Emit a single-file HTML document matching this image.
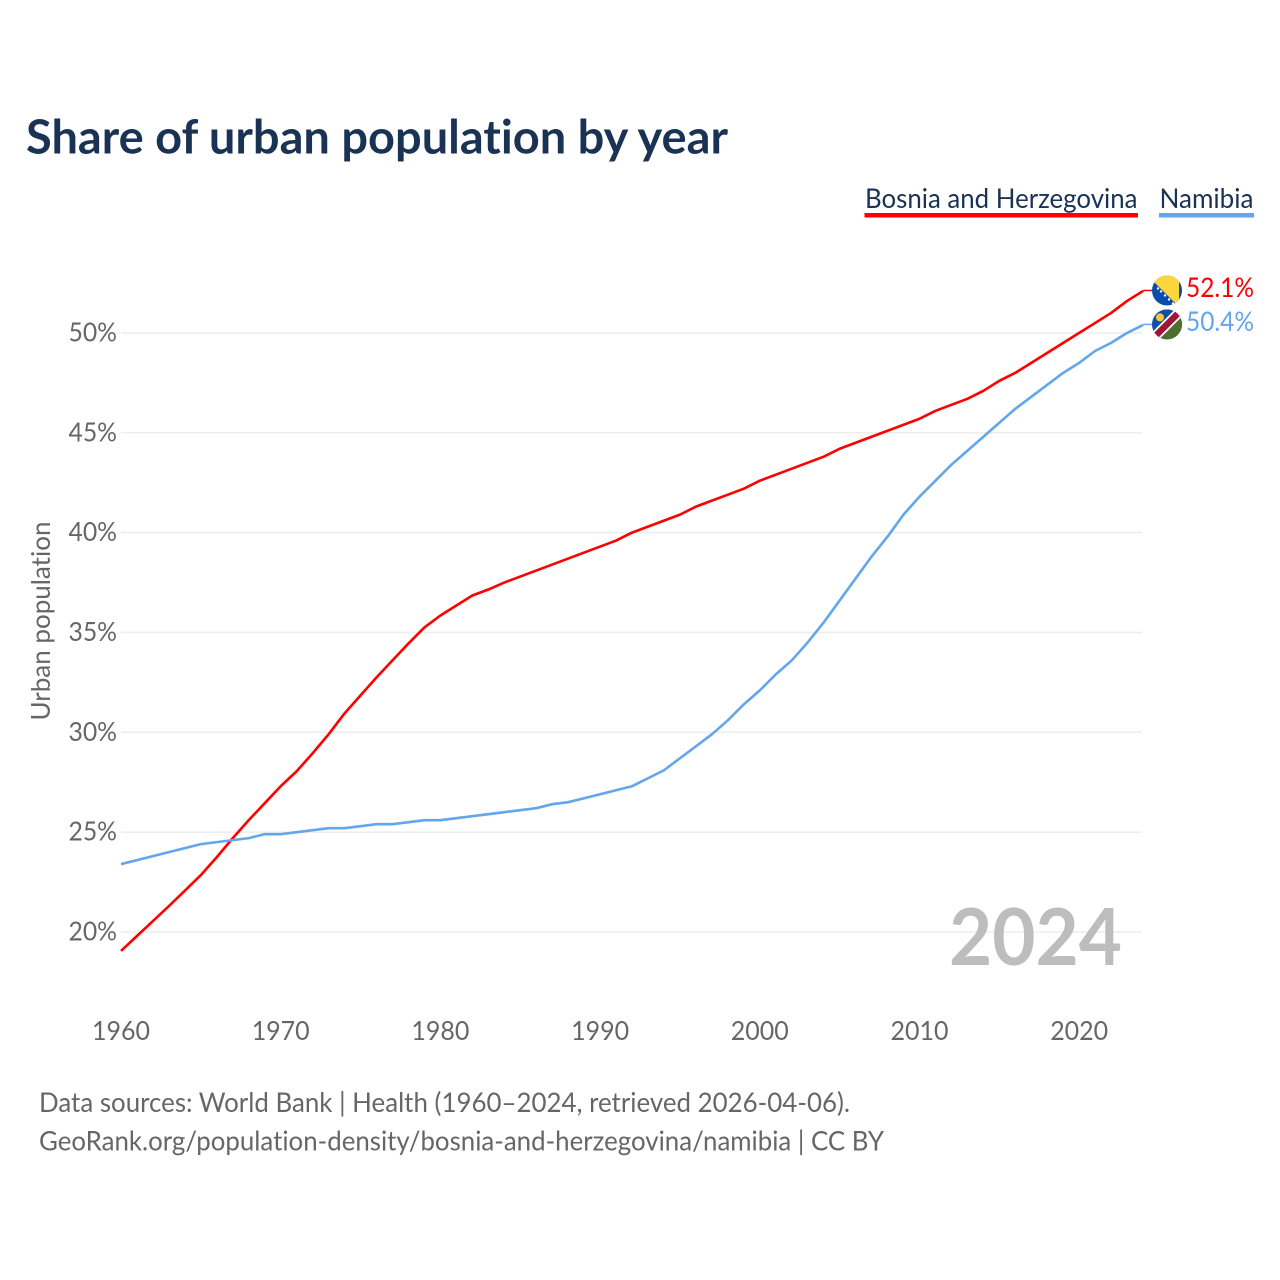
<!DOCTYPE html>
<html lang="en">
<head>
<meta charset="utf-8">
<title>Share of urban population by year</title>
<style>
html,body{margin:0;padding:0;background:#fff;width:1280px;height:1280px;overflow:hidden}
svg{display:block}
text{font-family:"Lato","Carlito","Liberation Sans",sans-serif;font-variant-ligatures:none}
</style>
</head>
<body>
<svg id="chart" xmlns="http://www.w3.org/2000/svg" width="1280" height="1280" viewBox="0 0 1280 1280">
  <defs>
    <clipPath id="flag-clip"><circle cx="0" cy="0" r="15"/></clipPath>
  </defs>
  <rect x="0" y="0" width="1280" height="1280" fill="#fff"/>
  <text x="26" y="153.5" font-size="47" font-weight="700" fill="#1a3354" textLength="702" lengthAdjust="spacingAndGlyphs">Share of urban population by year</text>

  <g>
    <text x="865" y="208" font-size="27" fill="#1a3354" textLength="272.5" lengthAdjust="spacingAndGlyphs">Bosnia and Herzegovina</text>
    <rect x="864.5" y="213" width="273.5" height="4.5" fill="#ff0000"/>
  </g>
  <g>
    <text x="1159.5" y="208" font-size="27" fill="#1a3354" textLength="94" lengthAdjust="spacingAndGlyphs">Namibia</text>
    <rect x="1159" y="213" width="95" height="4.5" fill="#62a6eb"/>
  </g>

  <g id="grid"></g>
  <g id="y-ticks"></g>
  <g id="x-ticks"></g>
  <text transform="translate(50,621) rotate(-90)" text-anchor="middle" font-size="26.5" fill="#666" textLength="199" lengthAdjust="spacingAndGlyphs">Urban population</text>

  <text x="949" y="965" font-size="79" font-weight="700" fill="#bdbdbd" textLength="173" lengthAdjust="spacingAndGlyphs">2024</text>

  <g id="series"></g>
  <g id="ends"></g>

  <text x="39" y="1112" font-size="27" fill="#666" textLength="811" lengthAdjust="spacingAndGlyphs">Data sources: World Bank | Health (1960–2024, retrieved 2026-04-06).</text>
  <text x="39" y="1150.5" font-size="27" fill="#666" textLength="845" lengthAdjust="spacingAndGlyphs">GeoRank.org/population-density/bosnia-and-herzegovina/namibia | CC BY</text>
</svg>
<script>
const startYear = 1960;
const yTickValues = [20, 25, 30, 35, 40, 45, 50];
const xTickYears = [1960, 1970, 1980, 1990, 2000, 2010, 2020];
const bosniaValues = [
  19.05, 19.8, 20.55, 21.3, 22.07, 22.85, 23.75, 24.7, 25.6, 26.45,
  27.3, 28.05, 28.95, 29.9, 30.95, 31.85, 32.75, 33.6, 34.45, 35.25,
  35.85, 36.35, 36.85, 37.15, 37.5, 37.8, 38.1, 38.4, 38.7, 39.0,
  39.3, 39.6, 40.0, 40.3, 40.6, 40.9, 41.3, 41.6, 41.9, 42.2,
  42.6, 42.9, 43.2, 43.5, 43.8, 44.2, 44.5, 44.8, 45.1, 45.4,
  45.7, 46.1, 46.4, 46.7, 47.1, 47.6, 48.0, 48.5, 49.0, 49.5,
  50.0, 50.5, 51.0, 51.6, 52.1
];
const namibiaValues = [
  23.4, 23.6, 23.8, 24.0, 24.2, 24.4, 24.5, 24.6, 24.7, 24.9,
  24.9, 25.0, 25.1, 25.2, 25.2, 25.3, 25.4, 25.4, 25.5, 25.6,
  25.6, 25.7, 25.8, 25.9, 26.0, 26.1, 26.2, 26.4, 26.5, 26.7,
  26.9, 27.1, 27.3, 27.7, 28.1, 28.7, 29.3, 29.9, 30.6, 31.4,
  32.1, 32.9, 33.6, 34.5, 35.5, 36.6, 37.7, 38.8, 39.8, 40.9,
  41.8, 42.6, 43.4, 44.1, 44.8, 45.5, 46.2, 46.8, 47.4, 48.0,
  48.5, 49.1, 49.5, 50.0, 50.4
];

const NS = 'http://www.w3.org/2000/svg';
function xScale(year) { return 121 + (year - 1960) * 15.97; }
function yScale(v) { return 932 - (v - 20) * 19.97; }
function make(tag, attrs, parent) {
  const el = document.createElementNS(NS, tag);
  for (const k in attrs) el.setAttribute(k, attrs[k]);
  parent.appendChild(el);
  return el;
}

const gridG = document.getElementById('grid');
const yG = document.getElementById('y-ticks');
yTickValues.forEach(function (v) {
  const line = make('line', { x1: 121, x2: 1142, y1: yScale(v), y2: yScale(v), stroke: '#eeeeee', 'stroke-width': 1.6 }, gridG);
  
  
  const t = make('text', { x: 117, y: yScale(v) + 8.5, 'text-anchor': 'end', 'font-size': 26.5, fill: '#666', textLength: 48.5, lengthAdjust: 'spacingAndGlyphs' }, yG);
  
  
  t.textContent = v + '%';
});

const xG = document.getElementById('x-ticks');
xTickYears.forEach(function (yr) {
  const t = make('text', { x: xScale(yr), y: 1040, 'text-anchor': 'middle', 'font-size': 26.5, fill: '#666', textLength: 58, lengthAdjust: 'spacingAndGlyphs' }, xG);
  
  
  t.textContent = yr;
});

function pathFor(values) {
  let d = '';
  values.forEach(function (v, i) {
    d += (i ? 'L' : 'M') + xScale(startYear + i).toFixed(2) + ' ' + yScale(v).toFixed(2);
  });
  return d;
}

const seriesG = document.getElementById('series');
const bosniaLine = make('path', { d: pathFor(bosniaValues), fill: 'none', stroke: '#ff0000', 'stroke-width': 2.6, 'stroke-linejoin': 'round' }, seriesG);


const namibiaLine = make('path', { d: pathFor(namibiaValues), fill: 'none', stroke: '#62a6eb', 'stroke-width': 2.6, 'stroke-linejoin': 'round' }, seriesG);



const endsG = document.getElementById('ends');
function endLabel(values, color) {
  const last = values[values.length - 1];
  const link = make('line', { x1: xScale(startYear + values.length - 1), x2: 1154, y1: yScale(last) - 0.5, y2: yScale(last) - 0.5, stroke: color, 'stroke-width': 1.5 }, endsG);
  
  
  const t = make('text', { x: 1186, y: yScale(last) + 6, 'font-size': 27, fill: color, textLength: 68, lengthAdjust: 'spacingAndGlyphs' }, endsG);
  
  
  t.textContent = last.toFixed(1) + '%';
}
endLabel(bosniaValues, '#ff0000');
endLabel(namibiaValues, '#62a6eb');

const bosniaFlag = make('g', { transform: 'translate(1167,' + (yScale(bosniaValues[bosniaValues.length - 1]) - 0.5) + ')', 'clip-path': 'url(#flag-clip)' }, endsG);


make('rect', { x: -15, y: -15, width: 30, height: 30, fill: '#0b4ea8' }, bosniaFlag);
make('polygon', { points: '-19.5,-15 12,-15 12,16.5', fill: '#fdd63e' }, bosniaFlag);
[[-9, -2], [-6, 1], [-2, 5], [2, 9], [6, 13]].forEach(function (p) {
  const star = make('circle', { cx: p[0], cy: p[1], r: 1.2, fill: '#fff' }, bosniaFlag);
  
  
});

const namibiaFlag = make('g', { transform: 'translate(1167,' + (yScale(namibiaValues[namibiaValues.length - 1]) - 0.5) + ')', 'clip-path': 'url(#flag-clip)' }, endsG);


make('rect', { x: -15, y: -15, width: 30, height: 30, fill: '#0f4fa8' }, namibiaFlag);
make('polygon', { points: '15,-15 15,15 -15,15', fill: '#4e6f2e' }, namibiaFlag);
make('line', { x1: -17, y1: 17, x2: 17, y2: -17, stroke: '#ffffff', 'stroke-width': 10 }, namibiaFlag);
make('line', { x1: -17, y1: 17, x2: 17, y2: -17, stroke: '#a31238', 'stroke-width': 6.5 }, namibiaFlag);
make('circle', { cx: -7, cy: -7, r: 4, fill: '#fbc73a' }, namibiaFlag);
</script>
</body>
</html>
